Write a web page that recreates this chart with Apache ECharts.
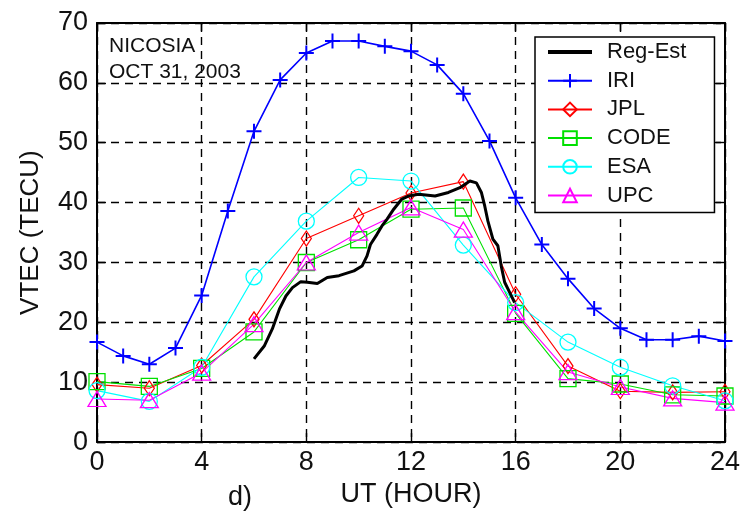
<!DOCTYPE html>
<html>
<head>
<meta charset="utf-8">
<script src="https://cdn.jsdelivr.net/npm/echarts@6/dist/echarts.min.js"></script>
<style>
  html, body { margin: 0; padding: 0; background: #fff; }
  #chart { width: 743px; height: 513px; }
</style>
</head>
<body>
<div id="chart"></div>
<script>
// Hourly IRI model values
const iriHours = [0,1,2,3,4,5,6,7,8,9,10,11,12,13,14,15,16,17,18,19,20,21,22,23,24];
const iriValues = [16.7,14.4,13.0,15.7,24.5,38.6,51.9,60.5,65.0,67.0,67.0,66.1,65.3,63.0,58.2,50.3,40.8,33.0,27.3,22.3,19.0,17.1,17.1,17.7,16.9];

// Global maps sampled every two hours
const mapHours = [0,2,4,6,8,10,12,14,16,18,20,22,24];
const jplValues  = [9.6, 9.0, 12.8, 20.5, 34.0, 37.8, 41.6, 43.5, 24.7, 12.7, 8.5, 8.3, 8.4];
const codeValues = [10.1, 9.3, 12.3, 18.4, 30.0, 33.8, 38.9, 39.1, 21.5, 10.6, 9.7, 7.9, 7.7];
const esaValues  = [8.6, 6.8, 12.5, 27.6, 36.9, 44.2, 43.6, 32.9, 23.3, 16.7, 12.5, 9.4, 6.9];
const upcValues  = [7.2, 7.0, 11.6, 19.7, 30.0, 35.0, 39.2, 35.5, 21.7, 11.7, 9.2, 7.3, 6.6];

// Regional estimate (daytime only)
const regHours  = [6.0,6.4,6.7,6.97,7.22,7.47,7.79,8.04,8.42,8.8,9.25,9.82,10.13,10.32,10.45,10.7,10.89,11.08,11.34,11.65,11.9,12.29,12.92,13.43,13.87,14.25,14.5,14.69,14.82,14.94,15.13,15.32,15.45,15.58,15.77,15.96];
const regValues = [13.9,16.1,18.9,22.2,24.4,25.8,26.8,26.7,26.5,27.5,27.8,28.6,29.4,31.1,33.0,34.7,36.1,37.2,38.9,40.6,41.1,41.4,41.1,41.7,42.5,43.6,43.3,41.7,39.4,36.9,33.9,32.8,29.4,26.7,25.0,23.3];

const zip = (xs, ys) => xs.map((x, i) => [x, ys[i]]);
const FONT = 'Liberation Sans, Arial, sans-serif';
const INK = '#111';

function markerSeries(name, color, xs, ys, symbol, size, width, border) {
  return {
    name, type: 'line', data: zip(xs, ys),
    symbol, symbolSize: size, showSymbol: true,
    lineStyle: { color, width },
    itemStyle: { color: 'rgba(0,0,0,0)', borderColor: color, borderWidth: border },
    emphasis: { disabled: true },
    animation: false, z: 3
  };
}

const plusPath = 'path://M0,7H14M7,0V14';

const chart = echarts.init(document.getElementById('chart'), null, { renderer: 'canvas' });

const splitDash = { show: true, lineStyle: { color: '#000', width: 1.4, type: [8, 6] } };
const frameLine = { show: true, onZero: false, lineStyle: { color: '#000', width: 2 } };
const innerTick = { show: true, inside: true, length: 9, lineStyle: { color: '#000', width: 1.4 } };

chart.setOption({
  animation: false,
  backgroundColor: '#fff',
  grid: { left: 97, right: 15, top: 23, bottom: 69, containLabel: false },
  xAxis: [{
    type: 'value', min: 0, max: 24, interval: 4,
    name: 'UT (HOUR)', nameLocation: 'middle', nameGap: 37,
    nameTextStyle: { fontFamily: FONT, fontSize: 27, color: INK },
    axisLine: frameLine, axisTick: innerTick,
    axisLabel: { fontFamily: FONT, fontSize: 27, color: INK, margin: 7 },
    splitLine: splitDash
  }, {
    type: 'value', min: 0, max: 24, interval: 4, position: 'top',
    axisLine: frameLine, axisTick: innerTick,
    axisLabel: { show: false }, splitLine: { show: false }
  }],
  yAxis: [{
    type: 'value', min: 0, max: 70, interval: 10,
    name: 'VTEC (TECU)', nameLocation: 'middle', nameGap: 53,
    nameTextStyle: { fontFamily: FONT, fontSize: 26, color: INK },
    axisLine: frameLine, axisTick: innerTick,
    axisLabel: { fontFamily: FONT, fontSize: 27, color: INK, margin: 9 },
    splitLine: splitDash
  }, {
    type: 'value', min: 0, max: 70, interval: 10, position: 'right',
    axisLine: frameLine, axisTick: innerTick,
    axisLabel: { show: false }, splitLine: { show: false }
  }],
  legend: {
    orient: 'vertical', left: 535, top: 37,
    padding: [4, 28, 6, 12],
    backgroundColor: '#fff', borderColor: '#000', borderWidth: 1.5,
    itemWidth: 44, itemHeight: 17, itemGap: 6.7,
    selectedMode: false,
    textStyle: { fontFamily: FONT, fontSize: 22, lineHeight: 22, color: INK, padding: [0, 0, 0, 10] },
    data: [
      { name: 'Reg-Est', icon: 'path://M0,0H44V4H0Z', itemStyle: { color: '#000' } },
      'IRI', 'JPL', 'CODE', 'ESA', 'UPC'
    ]
  },
  graphic: [
    { type: 'text', left: 109, top: 36, z: 10,
      style: { text: 'NICOSIA', font: '21px ' + FONT, fill: INK } },
    { type: 'text', left: 109, top: 62, z: 10,
      style: { text: 'OCT 31, 2003', font: '21px ' + FONT, fill: INK } },
    { type: 'text', left: 228, top: 484, z: 10,
      style: { text: 'd)', font: '27px ' + FONT, fill: INK } }
  ],
  series: [
    markerSeries('IRI', '#0000ff', iriHours, iriValues, plusPath, 15, 1.6, 2),
    markerSeries('JPL', '#ff0000', mapHours, jplValues, 'diamond', [10, 15], 1.1, 1.3),
    markerSeries('CODE', '#00e000', mapHours, codeValues, 'rect', 16, 1.1, 1.3),
    markerSeries('ESA', '#00ffff', mapHours, esaValues, 'circle', 16, 1.1, 1.3),
    markerSeries('UPC', '#ff00ff', mapHours, upcValues, 'triangle', [18, 15], 1.1, 1.3),
    {
      name: 'Reg-Est', type: 'line', data: zip(regHours, regValues),
      symbol: 'none', lineStyle: { color: '#000', width: 3 },
      itemStyle: { color: '#000' }, emphasis: { disabled: true }, z: 4
    }
  ]
});
</script>
</body>
</html>
